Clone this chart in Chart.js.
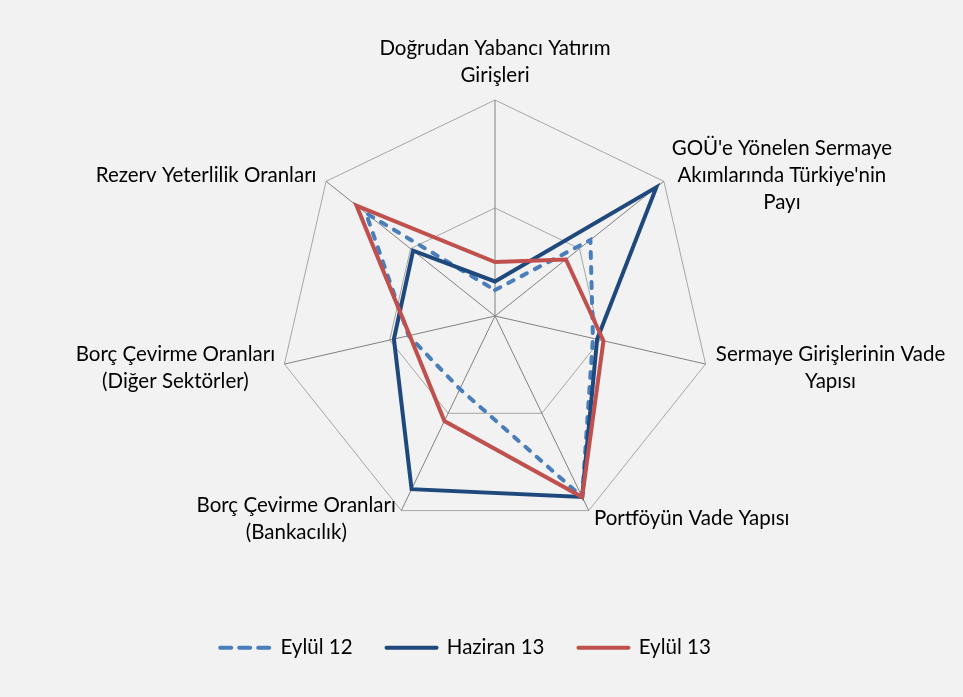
<!DOCTYPE html>
<html>
<head>
<meta charset="utf-8">
<script src="https://cdn.jsdelivr.net/npm/chart.js@4.4.0/dist/chart.umd.min.js"></script>
<style>
  html, body { margin: 0; padding: 0; background: #f2f2f2; }
  #wrap { width: 963px; height: 697px; }
</style>
</head>
<body>
<div id="wrap"><canvas id="myChart" width="963" height="697"></canvas></div>
<script>
'use strict';

// axis names (multi-line)
var categories = [
    ['Doğrudan Yabancı Yatırım', 'Girişleri'],
    ["GOÜ'e Yönelen Sermaye", "Akımlarında Türkiye'nin", 'Payı'],
    ['Sermaye Girişlerinin Vade', 'Yapısı'],
    ['Portföyün Vade Yapısı'],
    ['Borç Çevirme Oranları', '(Bankacılık)'],
    ['Borç Çevirme Oranları', '(Diğer Sektörler)'],
    ['Rezerv Yeterlilik Oranları']
];

// series values (scale 0-2)
var eylul12 = [0.24, 1.13, 0.93, 1.86, 0.75, 0.82, 1.53];
var haziran13 = [0.32, 1.91, 0.97, 1.86, 1.78, 0.96, 0.97];
var eylul13 = [0.50, 0.84, 1.03, 1.86, 1.08, 0.81, 1.64];

var seriesNames = ['Eylül 12', 'Haziran 13', 'Eylül 13'];

// label placement relative to each outer vertex: [dx, dy of first line]
var labelOffsets = [[0, -52], [118, -33], [125, -10], [103, 8], [-105, -5], [-109, -10], [-120, -6]];

var axisLabels = {
    id: 'axisLabels',
    afterDraw: function(chart) {
        var scale = chart.scales.r;
        var ctx = chart.ctx;
        ctx.save();
        ctx.font = '20.5px Lato';
        ctx.fillStyle = '#000000';
        ctx.textAlign = 'center';
        ctx.textBaseline = 'middle';
        categories.forEach(function(lines, i) {
            var p = scale.getPointPosition(i, scale.drawingArea);
            var off = labelOffsets[i];
            lines.forEach(function(line, k) {
                ctx.fillText(line, p.x + off[0], p.y + off[1] + k * 27);
            });
        });
        ctx.restore();
    }
};

var ctx = document.getElementById('myChart').getContext('2d');
var chart = new Chart(ctx, {
    type: 'radar',
    data: {
        labels: categories,
        datasets: [{
            label: seriesNames[0],
            data: eylul12,
            borderColor: '#4a7ebb',
            borderWidth: 4,
            borderDash: [6, 9],
            borderCapStyle: 'round',
            fill: false,
            pointRadius: 0,
            order: 3
        }, {
            label: seriesNames[1],
            data: haziran13,
            borderColor: '#1f497d',
            borderWidth: 4,
            borderCapStyle: 'round',
            fill: false,
            pointRadius: 0,
            order: 2
        }, {
            label: seriesNames[2],
            data: eylul13,
            borderColor: '#c0504d',
            borderWidth: 4,
            borderCapStyle: 'round',
            fill: false,
            pointRadius: 0,
            order: 1
        }]
    },
    options: {
        responsive: false,
        animation: false,
        layout: { padding: { top: 10, right: 32, bottom: 29, left: 0 } },
        scales: {
            r: {
                min: 0,
                max: 2,
                ticks: { display: false, stepSize: 1 },
                pointLabels: { display: false },
                grid: { color: '#a6a6a6', lineWidth: 1 },
                angleLines: { color: '#808080', lineWidth: 1 },
                afterFit: function(scale) {
                    scale.xCenter = 495;
                    scale.yCenter = 316;
                    scale.drawingArea = 216;
                }
            }
        },
        plugins: {
            tooltip: { enabled: false },
            legend: {
                position: 'bottom',
                labels: {
                    usePointStyle: true,
                    pointStyle: 'line',
                    pointStyleWidth: 50,
                    padding: 34,
                    color: '#000000',
                    font: { family: 'Lato', size: 20.5 },
                    sort: function(a, b) { return a.datasetIndex - b.datasetIndex; },
                    generateLabels: function(chart) {
                        var items = Chart.defaults.plugins.legend.labels.generateLabels(chart);
                        items.forEach(function(item) {
                            var ds = chart.data.datasets[item.datasetIndex];
                            item.strokeStyle = ds.borderColor;
                            item.lineWidth = ds.borderWidth;
                            item.lineCap = 'round';
                            item.lineDash = ds.borderDash ? [11, 8] : [];
                        });
                        return items;
                    }
                }
            }
        }
    },
    plugins: [axisLabels]
});
</script>
</body>
</html>
